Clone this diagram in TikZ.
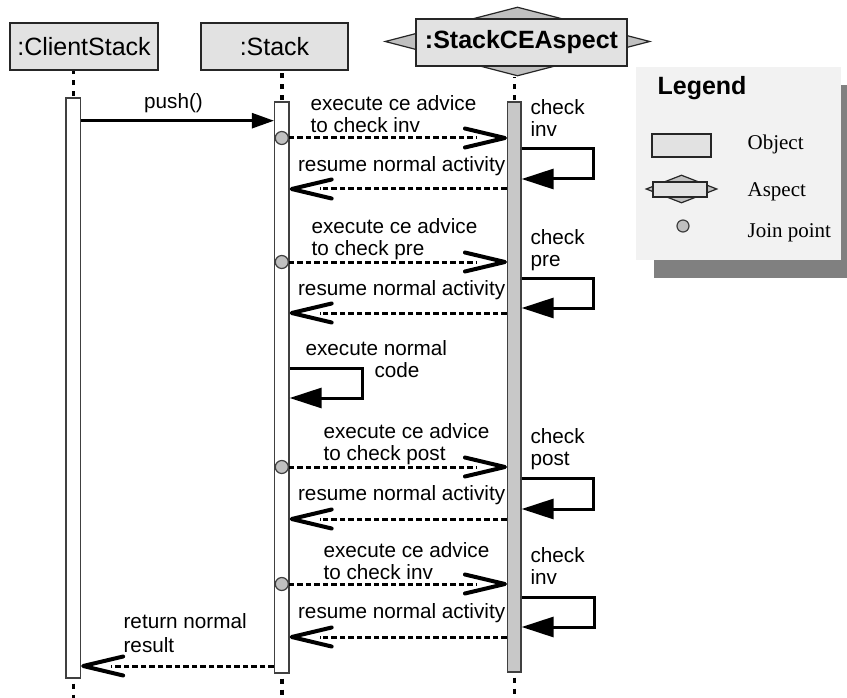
\documentclass[tikz,border=0pt]{standalone}
\usepackage{fontspec}
\setmainfont{Liberation Sans}
\newfontfamily\legserif{Liberation Serif}
\usetikzlibrary{arrows.meta, shapes.geometric}

\definecolor{boxgray}{HTML}{E2E2E2}
\definecolor{diagray}{HTML}{C0C0C0}
\definecolor{bargray}{HTML}{C8C8C8}
\definecolor{leggray}{HTML}{F2F2F2}
\definecolor{shadowgray}{HTML}{808080}

% open chevron tip for the dashed messages
\pgfdeclarearrow{
  name = Chevron,
  parameters = {\the\pgfarrowlength,\the\pgfarrowwidth},
  setup code = {
    \pgfarrowssettipend{2pt}
    \pgfarrowssetlineend{-28pt}
    \pgfarrowssetbackend{-\pgfarrowlength}
    \pgfarrowshullpoint{2pt}{0pt}
    \pgfarrowsupperhullpoint{-\pgfarrowlength}{.5\pgfarrowwidth}
    \pgfarrowssavethe\pgfarrowlength
    \pgfarrowssavethe\pgfarrowwidth
  },
  drawing code = {
    \pgfsetdash{}{0pt}
    \pgfsetlinewidth{4pt}
    \pgfsetroundcap
    \pgfsetroundjoin
    \pgfpathmoveto{\pgfqpoint{-\pgfarrowlength}{.5\pgfarrowwidth}}
    \pgfpathlineto{\pgfpointorigin}
    \pgfpathlineto{\pgfqpoint{-\pgfarrowlength}{-.5\pgfarrowwidth}}
    \pgfusepathqstroke
  },
  defaults = {length=40pt, width=19pt}
}

\begin{document}
\begin{tikzpicture}[x=1pt, y=-1pt, line width=1.2pt,
    objbox/.style={draw=black!85, fill=boxgray, inner sep=0pt, font=\fontsize{25pt}{30pt}\selectfont},
    aspbox/.style={objbox, font=\fontsize{25pt}{30pt}\selectfont\bfseries},
    aspdiam/.style={diamond, draw=black!85, fill=diagray, inner sep=0pt},
    actbar/.style={draw=black!75, fill=white, inner sep=0pt, minimum width=14.5pt},
    lifeline/.style={line width=3.5pt, dash pattern=on 5pt off 6pt},
    jpoint/.style={circle, draw=black!75, fill=diagray, inner sep=0pt, minimum size=13pt},
    msg/.style={line width=3pt, dash pattern=on 5.5pt off 3pt, -{Chevron}},
    call/.style={line width=2.5pt, -{Triangle[length=22pt, width=15pt]}},
    selfcall/.style={line width=3pt, -{Triangle[length=32pt, width=20pt]}},
    lbl/.style={font=\fontsize{20.7pt}{22pt}\selectfont, inner sep=0pt, align=left, anchor=base west},
    legtxt/.style={font=\legserif\fontsize{21pt}{24pt}\selectfont, inner sep=0pt, anchor=base west}
]
    \useasboundingbox (0,0) rectangle (847,698);

    % Objects and aspect
    \node[aspdiam, minimum width=265pt, minimum height=69pt] (aspdia) at (517.5,41.5) {};
    \node[objbox, minimum width=148pt, minimum height=47pt] (client) at (84,46.5) {:ClientStack};
    \node[objbox, minimum width=147pt, minimum height=47pt] (stack) at (274.5,46.5) {:Stack};
    \node[aspbox, minimum width=211pt, minimum height=47pt] (aspect) at (521.5,42.5) {:StackCEAspect};

    % Activation bars
    \node[actbar, minimum height=580pt] (cbar) at (73.3,388) {};
    \node[actbar, minimum height=571pt] (sbar) at (281.8,387.5) {};
    \node[actbar, fill=bargray, minimum width=13.5pt, minimum height=570pt] (abar) at (514.3,387) {};

    % Lifelines
    \draw[lifeline, dash phase=9.7pt] (cbar.north) -- (client.south -| cbar);
    \draw[lifeline, dash phase=9.7pt] (sbar.north) -- (stack.south -| sbar);
    \draw[lifeline, dash phase=9.7pt] (abar.north) -- (aspdia.south -| abar);
    \draw[lifeline, dash phase=6pt] (cbar.south) -- ++(0,22);
    \draw[lifeline, dash phase=6pt] (sbar.south) -- ++(0,26);
    \draw[lifeline, dash phase=6pt] (abar.south) -- ++(0,27);

    % push()
    \draw[call] (cbar.east |- 0,120.7) -- (sbar.west |- 0,120.7);
    \node[lbl, anchor=base] (pushlbl) at (173.5,109) {push()};

    % Join points
    \node[jpoint] (jp1) at (sbar |- 0,138) {};
    \node[jpoint] (jp2) at (sbar |- 0,262) {};
    \node[jpoint] (jp3) at (sbar |- 0,467) {};
    \node[jpoint] (jp4) at (sbar |- 0,584) {};

    % check inv
    \draw[msg] (jp1.east) -- (abar.west |- jp1);
    \node[lbl] (adv1) at (310,133) {execute ce advice\\to check inv};
    \draw[selfcall] (abar.east |- 0,149) -- ++(72,0) |- (abar.east |- 0,179);
    \node[lbl] (chk1) at (530,137) {check\\inv};
    \draw[msg] (abar.west |- 0,189) -- (sbar.east |- 0,189);
    \node[lbl] (res1) at (297.5,172) {resume normal activity};

    % check pre
    \draw[msg] (jp2.east) -- (abar.west |- jp2);
    \node[lbl] (adv2) at (311,255) {execute ce advice\\to check pre};
    \draw[selfcall] (abar.east |- 0,278) -- ++(72,0) |- (abar.east |- 0,308);
    \node[lbl] (chk2) at (530,266) {check\\pre};
    \draw[msg] (abar.west |- 0,313) -- (sbar.east |- 0,313);
    \node[lbl] (res2) at (297.5,295) {resume normal activity};

    % normal code
    \draw[selfcall] (sbar.east |- 0,368) -- ++(73,0) |- (sbar.east |- 0,398);
    \node[lbl] (normal) at (305,377) {execute normal\\\hspace*{69pt}code};

    % check post
    \draw[msg] (jp3.east) -- (abar.west |- jp3);
    \node[lbl] (adv3) at (323,460) {execute ce advice\\to check post};
    \draw[selfcall] (abar.east |- 0,478) -- ++(72,0) |- (abar.east |- 0,509);
    \node[lbl] (chk3) at (530,465) {check\\post};
    \draw[msg] (abar.west |- 0,519) -- (sbar.east |- 0,519);
    \node[lbl] (res3) at (297.5,500) {resume normal activity};

    % check inv again
    \draw[msg] (jp4.east) -- (abar.west |- jp4);
    \node[lbl] (adv4) at (323,579) {execute ce advice\\to check inv};
    \draw[selfcall] (abar.east |- 0,597) -- ++(73,0) |- (abar.east |- 0,627);
    \node[lbl] (chk4) at (530,584) {check\\inv};
    \draw[msg] (abar.west |- 0,637) -- (sbar.east |- 0,637);
    \node[lbl] (res4) at (297.5,618) {resume normal activity};

    % return
    \draw[msg] (sbar.west |- 0,666) -- (cbar.east |- 0,666);
    \node[lbl, font=\fontsize{20.7pt}{24pt}\selectfont] (ret) at (123,652) {return normal\\result};

    % Legend
    \fill[shadowgray] (654,85) rectangle (847,278);
    \fill[leggray] (636,67) rectangle (841,260);
    \node[anchor=base west, inner sep=0pt, font=\fontsize{25pt}{30pt}\selectfont\bfseries] (legend) at (657,95) {Legend};
    \node[objbox, minimum width=59pt, minimum height=23pt] (legobj) at (681.5,145.5) {};
    \node[legtxt] (legobjtxt) at (747,150) {Object};
    \node[aspdiam, minimum width=71pt, minimum height=28pt] (legdia) at (681.5,189) {};
    \node[objbox, minimum width=54pt, minimum height=15pt] (legasp) at (680,189.5) {};
    \node[legtxt] (legasptxt) at (747,197) {Aspect};
    \node[jpoint, minimum size=12pt] (legjp) at (683,226) {};
    \node[legtxt] (legjptxt) at (747,237) {Join point};
\end{tikzpicture}
\end{document}
